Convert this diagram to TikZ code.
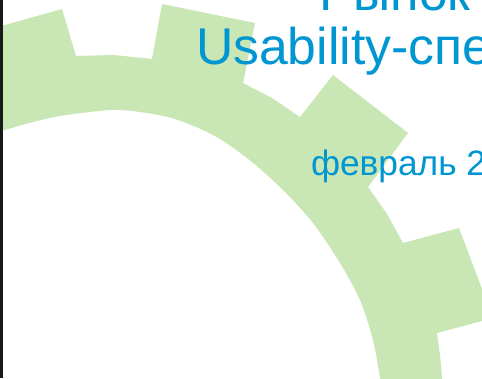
\documentclass[tikz,border=0pt]{standalone}
\usepackage{fontspec}
\setmainfont{Liberation Sans}
\definecolor{gearGreen}{RGB}{200,231,181}
\definecolor{titleBlue}{RGB}{0,150,210}
\definecolor{edgeDark}{RGB}{25,25,25}
\tikzset{
  geararea/.style={fill=gearGreen, draw=none},
  titletext/.style={text=titleBlue, inner sep=0pt, outer sep=0pt, anchor=base west,
    font=\fontsize{51.7}{60}\selectfont},
  datetext/.style={text=titleBlue, inner sep=0pt, outer sep=0pt, anchor=base west,
    font=\fontsize{35.3}{40}\selectfont},
}
\begin{document}
\begin{tikzpicture}[x=1pt,y=-1pt]
\useasboundingbox (0,0) rectangle (482,378);
\clip (0,0) rectangle (482,378);
\fill[white] (0,0) rectangle (482,378);
% gear ring with teeth
\path[geararea] (-20,32) -- (62,9) -- (76,56) -- (114,55) -- (152,59)
  -- (162,4) -- (255,23) -- (243,83) -- (272,98) -- (300,117)
  -- (333,75) -- (408,133) -- (368,187) -- (387,214) -- (403,243)
  -- (459,228) -- (493,318) -- (437,333) -- (440,355) -- (442,378) -- (444,400)
  -- (383,400)
  -- plot[smooth] coordinates {(383,400) (380,378) (373,340) (360,300) (340,263)
     (313,223) (282,189) (247,158) (213,135) (175,119) (140,112) (110,110) (60,116) (33,122) (5,130) (-20,138)}
  -- cycle;
% texts
\node[titletext] (title1) at (319,10) {Рынок};
\node[titletext] (title2) at (196,64) {Usability-спе};
\node[datetext] (date) at (311,175) {февраль 2};
% left border
\fill[edgeDark] (0,0) rectangle (3,378);
\end{tikzpicture}
\end{document}
